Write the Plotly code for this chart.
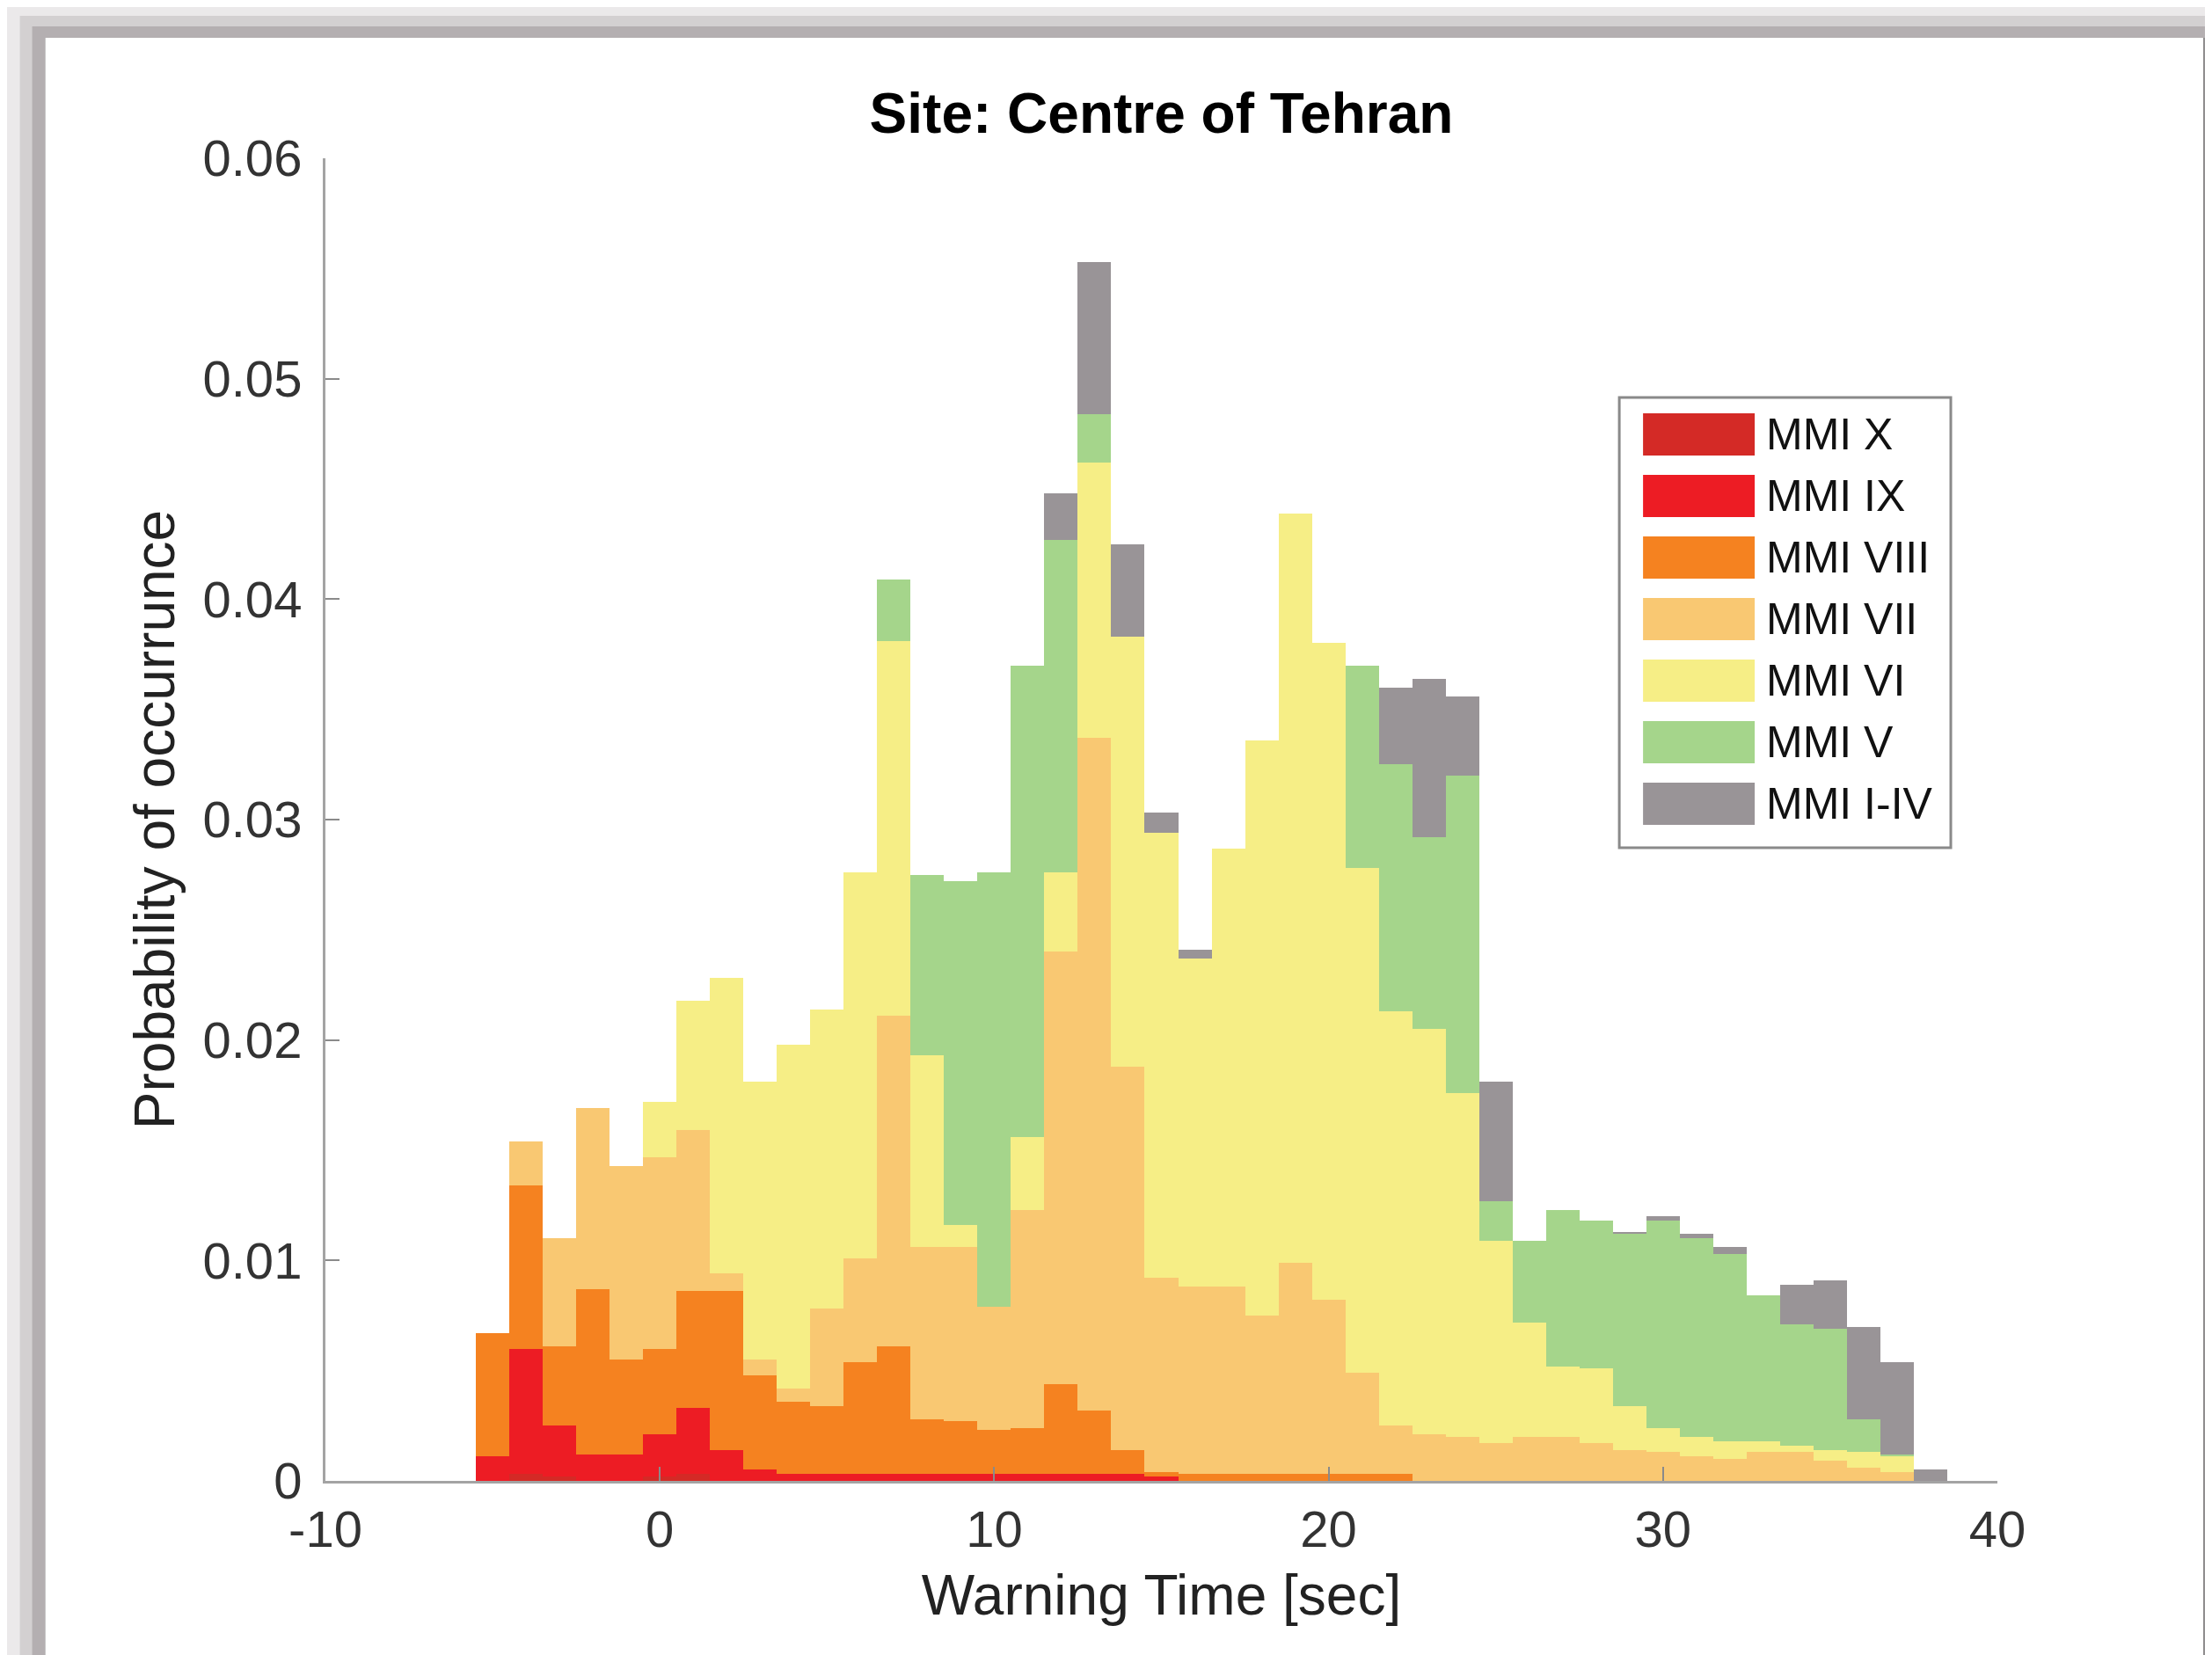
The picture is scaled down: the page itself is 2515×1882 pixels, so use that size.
import plotly.graph_objects as go

# ---------------- data ----------------
warning_time = list(range(-5, 39))  # bin centres (sec), bin width 1

series_names = ["MMI X", "MMI IX", "MMI VIII", "MMI VII", "MMI VI", "MMI V", "MMI I-IV"]
series_colors = ["#d42a26", "#ed1c24", "#f58220", "#f9c872", "#f6ee86", "#a5d58b", "#999497"]

mmi_x = [0, 0.0003, 0.0002, 0, 0, 0.0002, 0.0003, 0, 0, 0,
         0, 0, 0, 0, 0, 0, 0, 0, 0, 0,
         0, 0, 0, 0, 0, 0, 0, 0, 0, 0,
         0, 0, 0, 0, 0, 0, 0, 0, 0, 0,
         0, 0, 0, 0]
mmi_ix = [0.0011, 0.0057, 0.0023, 0.0012, 0.0012, 0.0019, 0.0030, 0.0014, 0.0005, 0.0003,
          0.0003, 0.0003, 0.0003, 0.0003, 0.0003, 0.0003, 0.0003, 0.0003, 0.0003, 0.0003,
          0.0002, 0, 0, 0, 0, 0, 0, 0, 0, 0,
          0, 0, 0, 0, 0, 0, 0, 0, 0, 0,
          0, 0, 0, 0]
mmi_viii = [0.0056, 0.0074, 0.0036, 0.0075, 0.0043, 0.0039, 0.0053, 0.0072, 0.0043, 0.0033,
            0.0031, 0.0051, 0.0058, 0.0025, 0.0024, 0.0020, 0.0021, 0.0041, 0.0029, 0.0011,
            0.0002, 0.0003, 0.0003, 0.0003, 0.0003, 0.0003, 0.0003, 0.0003, 0, 0,
            0, 0, 0, 0, 0, 0, 0, 0, 0, 0,
            0, 0, 0, 0]
mmi_vii = [0, 0.0020, 0.0049, 0.0082, 0.0088, 0.0087, 0.0073, 0.0008, 0.0007, 0.0006,
           0.0044, 0.0047, 0.0150, 0.0078, 0.0079, 0.0056, 0.0099, 0.0196, 0.0305, 0.0174,
           0.0088, 0.0085, 0.0085, 0.0072, 0.0096, 0.0079, 0.0046, 0.0022, 0.0021, 0.0020,
           0.0017, 0.0020, 0.0020, 0.0017, 0.0014, 0.0013, 0.0011, 0.0010, 0.0013, 0.0013,
           0.0009, 0.0006, 0.0004, 0]
mmi_vi = [0, 0, 0, 0, 0, 0.0025, 0.0059, 0.0134, 0.0126, 0.0156,
          0.0136, 0.0175, 0.0170, 0.0087, 0.0010, 0, 0.0033, 0.0036, 0.0125, 0.0195,
          0.0202, 0.0149, 0.0199, 0.0261, 0.0340, 0.0298, 0.0229, 0.0188, 0.0184, 0.0156,
          0.0092, 0.0052, 0.0032, 0.0034, 0.0020, 0.0011, 0.0009, 0.0008, 0.0005, 0.0003,
          0.0005, 0.0007, 0.0007, 0]
mmi_v = [0, 0, 0, 0, 0, 0, 0, 0, 0, 0,
         0, 0, 0.0028, 0.0082, 0.0156, 0.0197, 0.0214, 0.0151, 0.0022, 0,
         0, 0, 0, 0, 0, 0, 0.0092, 0.0112, 0.0087, 0.0144,
         0.0018, 0.0037, 0.0071, 0.0067, 0.0078, 0.0094, 0.0090, 0.0085, 0.0066, 0.0055,
         0.0055, 0.0015, 0.0001, 0]
mmi_i_iv = [0, 0, 0, 0, 0, 0, 0, 0, 0, 0,
            0, 0, 0, 0, 0, 0, 0, 0.0021, 0.0069, 0.0042,
            0.0009, 0.0004, 0, 0, 0, 0, 0, 0.0035, 0.0072, 0.0036,
            0.0054, 0, 0, 0, 0.0001, 0.0002, 0.0002, 0.0003, 0, 0.0018,
            0.0022, 0.0042, 0.0042, 0.0005]

series_values = [mmi_x, mmi_ix, mmi_viii, mmi_vii, mmi_vi, mmi_v, mmi_i_iv]

x_tick_vals = [-10, 0, 10, 20, 30, 40]
x_tick_text = ["-10", "0", "10", "20", "30", "40"]
y_tick_vals = [0, 0.01, 0.02, 0.03, 0.04, 0.05, 0.06]
y_tick_text = ["0", "0.01", "0.02", "0.03", "0.04", "0.05", "0.06"]

# ---------------- figure ----------------
W, H = 2515, 1882
L, R, T, B = 361.5, 2263.0, 172.0, 1676.0   # plot area in pixels
FONT = "Liberation Sans, Arial, Helvetica, sans-serif"


def px_to_paper(px, py):
    return (px - L) / (R - L), (B - py) / (B - T)


fig = go.Figure()
for name, color, vals in zip(series_names, series_colors, series_values):
    fig.add_trace(go.Bar(
        x=warning_time, y=vals, name=name, width=1.0,
        marker=dict(color=color, line=dict(width=0)),
        showlegend=False,
    ))

shapes = []


def frame_rect(x0, y0, x1, y1, color):
    a0, b0 = px_to_paper(x0, y1)
    a1, b1 = px_to_paper(x1, y0)
    return dict(type="rect", xref="paper", yref="paper", layer="below",
                x0=a0, x1=a1, y0=b0, y1=b1, fillcolor=color, line=dict(width=0))


# page frame (grey shadow border around the white figure panel)
shapes.append(frame_rect(14, 10, W, H, "#d3d0d1"))
shapes.append(frame_rect(28, 22, W, H, "#b4afb1"))
shapes.append(frame_rect(43, 35, W, H, "#8e8c8d"))
shapes.append(frame_rect(43, 35, 2497, 1877, "white"))

# custom legend box
lx0, ly0 = px_to_paper(1833, 444)
lx1, ly1 = px_to_paper(2210, 956)
shapes.append(dict(type="rect", xref="paper", yref="paper",
                   x0=lx0, x1=lx1, y0=ly1, y1=ly0, fillcolor="white",
                   line=dict(color="#8a8a8a", width=3)))
annotations = []
for i, (name, color) in enumerate(zip(series_names, series_colors)):
    cy = 486 + 70 * i
    sx0, sy0 = px_to_paper(1860, cy - 24)
    sx1, sy1 = px_to_paper(1987, cy + 24)
    shapes.append(dict(type="rect", xref="paper", yref="paper",
                       x0=sx0, x1=sx1, y0=sy1, y1=sy0, fillcolor=color,
                       line=dict(width=0)))
    tx, ty = px_to_paper(1998, cy)
    annotations.append(dict(xref="paper", yref="paper", x=tx, y=ty,
                            xanchor="left", yanchor="middle", showarrow=False,
                            text=name, font=dict(family=FONT, size=50, color="#111111")))

axis_common = dict(
    showgrid=False, zeroline=False, showline=True, linecolor="#a3a3a3", linewidth=3,
    ticks="inside", ticklen=16, tickwidth=2, tickcolor="#8a8a8a",
    tickfont=dict(family=FONT, size=58, color="#333333"),
    mirror=False,
)

fig.update_layout(
    width=W, height=H,
    margin=dict(l=L, r=W - R, t=T, b=H - B, pad=0),
    paper_bgcolor="#ebe9ea", plot_bgcolor="white",
    barmode="stack", bargap=0,
    title=dict(text="<b>Site: Centre of Tehran</b>", x=0.5, xref="paper",
               y=1 - 121 / H, yref="container", yanchor="middle", xanchor="center",
               font=dict(family=FONT, size=64, color="#000000")),
    xaxis=dict(range=[-10, 40], tickvals=x_tick_vals, ticktext=x_tick_text,
               ticklabelstandoff=2,
               title=dict(text="Warning Time [sec]", standoff=22,
                          font=dict(family=FONT, size=64, color="#222222")),
               **axis_common),
    yaxis=dict(range=[0, 0.06], tickvals=y_tick_vals, ticktext=y_tick_text,
               ticklabelstandoff=12,
               title=dict(text="Probability of occurrunce", standoff=12,
                          font=dict(family=FONT, size=64, color="#222222")),
               **axis_common),
    shapes=shapes,
    annotations=annotations,
)

fig.write_html("out.html")
